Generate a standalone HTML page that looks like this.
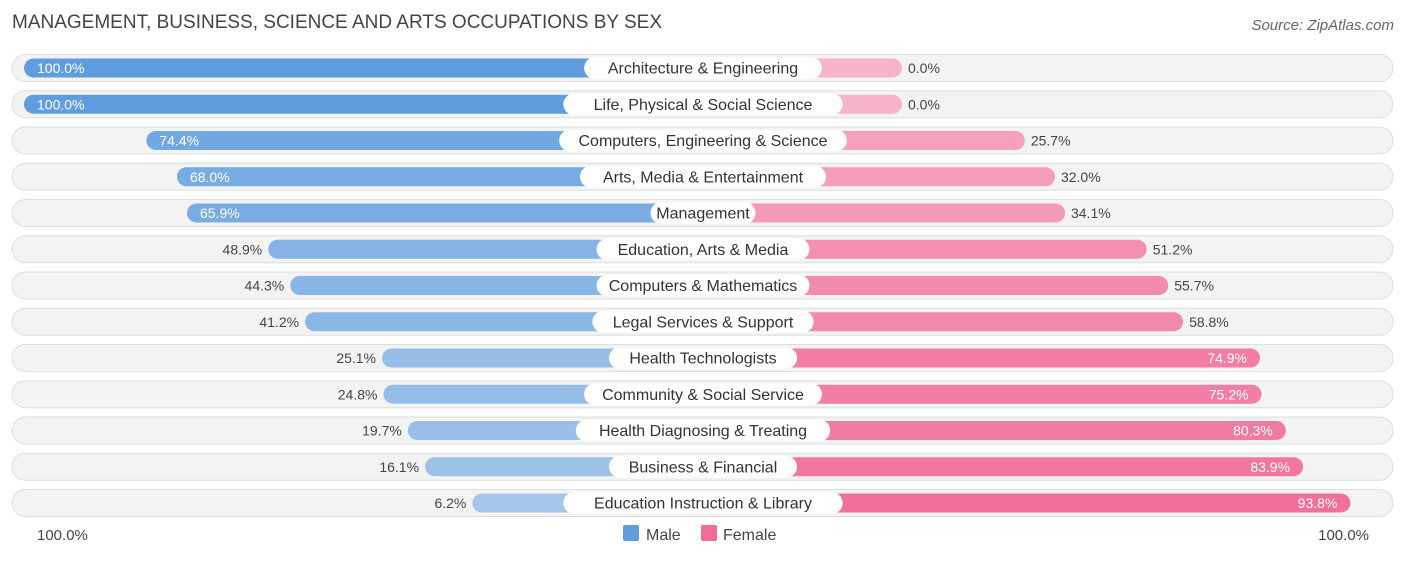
<!DOCTYPE html>
<html><head><meta charset="utf-8"><style>
body{margin:0;background:#fff;font-family:"Liberation Sans",sans-serif;}
</style></head><body>
<svg id="c" width="1406" height="559" xmlns="http://www.w3.org/2000/svg">
<text x="12" y="28" font-size="19" fill="#444">MANAGEMENT, BUSINESS, SCIENCE AND ARTS OCCUPATIONS BY SEX</text>
<text x="1394" y="30" font-size="15" fill="#666" font-style="italic" text-anchor="end">Source: ZipAtlas.com</text>
<g id="rows"></g>
<text x="37" y="540" font-size="15" fill="#444">100.0%</text>
<text x="1369" y="540" font-size="15" fill="#444" text-anchor="end">100.0%</text>
<g><rect x="623" y="525" width="16" height="16" rx="2" fill="#5f9ddf"/><text x="646" y="540" font-size="16" fill="#444">Male</text></g>
<g><rect x="701" y="525" width="16" height="16" rx="2" fill="#f06c98"/><text x="723" y="540" font-size="16" fill="#444">Female</text></g>
</svg>
<script>
const categories=["Architecture & Engineering","Life, Physical & Social Science","Computers, Engineering & Science","Arts, Media & Entertainment","Management","Education, Arts & Media","Computers & Mathematics","Legal Services & Support","Health Technologists","Community & Social Service","Health Diagnosing & Treating","Business & Financial","Education Instruction & Library"];
const maleValues=[100.0,100.0,74.4,68.0,65.9,48.9,44.3,41.2,25.1,24.8,19.7,16.1,6.2];
const femaleValues=[0.0,0.0,25.7,32.0,34.1,51.2,55.7,58.8,74.9,75.2,80.3,83.9,93.8];
const NS="http://www.w3.org/2000/svg";
const g=document.getElementById('rows');
const S=4.78, M0=502, F0=902, CX=703;
function mx(v){return M0-S*v/100*100/100*1;}
function xm(v){return M0-S*v;}
function xf(v){return F0+S*v;}
function lerp(a,b,t){return Math.round(a+(b-a)*t);}
function col(c1,c2,t){return `rgb(${lerp(c1[0],c2[0],t)},${lerp(c1[1],c2[1],t)},${lerp(c1[2],c2[2],t)})`;}
function mk(tag,attrs,parent){const e=document.createElementNS(NS,tag);for(const k in attrs)e.setAttribute(k,attrs[k]);parent.appendChild(e);return e;}
categories.forEach((cat,i)=>{
  const y=68+i*36.25;
  const row=mk('g',{},g);
  
  
  const bg=mk('rect',{x:12,y:y-13.5,width:1381,height:27,rx:13.5,fill:'#f3f3f3',stroke:'#dedede','stroke-width':1},row);
  
  
  const m=maleValues[i], f=femaleValues[i];
  const mc=col([169,201,236],[95,157,223],m/100);
  const fc=col([247,179,200],[240,108,152],f/100);
  const mb=mk('rect',{x:xm(m),y:y-9.5,width:CX-xm(m),height:19,rx:9.5,fill:mc},row);
  
  
  const fb=mk('rect',{x:CX,y:y-9.5,width:xf(f)-CX,height:19,rx:9.5,fill:fc},row);
  
  
  const lw=cat.length*8.3+22;
  const pill=mk('rect',{x:CX-lw/2,y:y-11,width:lw,height:22,rx:11,fill:'#fff'},row);
  
  
  const lt=mk('text',{x:CX,y:y+5.5,'font-size':16,fill:'#333','text-anchor':'middle'},row);
  lt.textContent=cat;
  
  
  const mIn=m>60;
  const mt=mk('text',{x:mIn?xm(m)+13:xm(m)-6,y:y+5,'font-size':14,fill:mIn?'#fff':'#444','text-anchor':mIn?'start':'end'},row);
  mt.textContent=m.toFixed(1)+'%';
  
  
  const fIn=f>60;
  const ft=mk('text',{x:fIn?xf(f)-13:xf(f)+6,y:y+5,'font-size':14,fill:fIn?'#fff':'#444','text-anchor':fIn?'end':'start'},row);
  ft.textContent=f.toFixed(1)+'%';
  
  
});
</script>
</body></html>
